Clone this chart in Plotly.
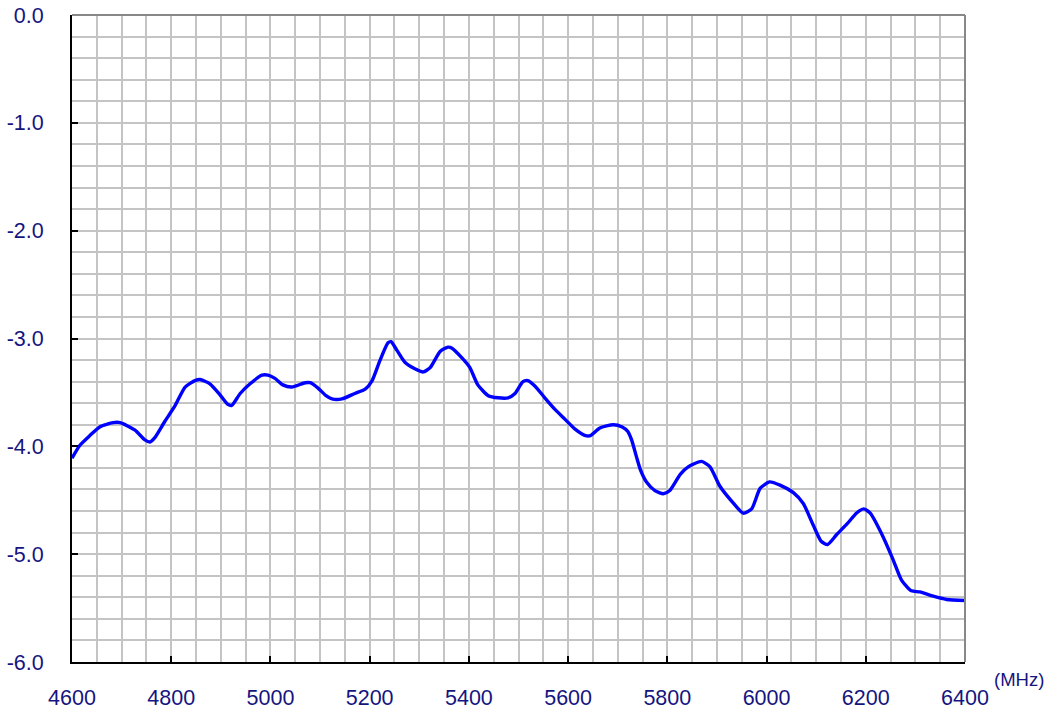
import plotly.graph_objects as go

# Frequency sweep (MHz) and measured level (dB)
freq_mhz = [4600, 4616, 4636, 4656, 4683, 4697, 4727, 4747, 4757, 4767, 4787, 4808,
            4828, 4848, 4858, 4878, 4898, 4914, 4922, 4939, 4959, 4983, 4995, 5009,
            5025, 5043, 5070, 5080, 5096, 5112, 5124, 5144, 5170, 5191, 5205, 5221,
            5237, 5243, 5255, 5271, 5291, 5308, 5322, 5342, 5358, 5366, 5386, 5402,
            5418, 5439, 5459, 5479, 5493, 5509, 5519, 5533, 5553, 5574, 5594, 5614,
            5635, 5645, 5664, 5691, 5709, 5720, 5728, 5738, 5746, 5758, 5775, 5792,
            5805, 5826, 5842, 5869, 5886, 5906, 5930, 5953, 5970, 5987, 6006, 6027,
            6054, 6074, 6094, 6110, 6123, 6141, 6164, 6181, 6196, 6209, 6235, 6255,
            6272, 6292, 6309, 6336, 6363, 6400]
level_db = [-4.11, -3.99, -3.90, -3.82, -3.78, -3.78, -3.85, -3.94, -3.96, -3.92, -3.77, -3.62,
            -3.45, -3.39, -3.38, -3.42, -3.52, -3.61, -3.62, -3.51, -3.42, -3.34, -3.34, -3.37,
            -3.43, -3.45, -3.41, -3.41, -3.46, -3.53, -3.56, -3.56, -3.51, -3.47, -3.39, -3.20,
            -3.04, -3.03, -3.11, -3.22, -3.28, -3.31, -3.27, -3.12, -3.08, -3.09, -3.18, -3.27,
            -3.43, -3.53, -3.55, -3.55, -3.51, -3.40, -3.39, -3.44, -3.55, -3.66, -3.75, -3.84,
            -3.90, -3.90, -3.83, -3.80, -3.82, -3.86, -3.94, -4.10, -4.22, -4.33, -4.41, -4.44,
            -4.41, -4.26, -4.19, -4.14, -4.19, -4.37, -4.51, -4.62, -4.58, -4.39, -4.33, -4.36,
            -4.43, -4.53, -4.73, -4.88, -4.91, -4.82, -4.71, -4.62, -4.58, -4.62, -4.84, -5.05,
            -5.24, -5.34, -5.35, -5.39, -5.42, -5.43]

x_ticks = [4600, 4800, 5000, 5200, 5400, 5600, 5800, 6000, 6200, 6400]
y_ticks = [0.0, -1.0, -2.0, -3.0, -4.0, -5.0, -6.0]
y_tick_text = [f"{v:.1f}" for v in y_ticks]

label_color = "#151580"
grid_color = "#c4c4c4"
font_family = "Liberation Sans, Arial, sans-serif"
tick_font = dict(size=21.5, color=label_color, family=font_family)

fig = go.Figure()
fig.add_trace(go.Scatter(
    x=freq_mhz, y=level_db, mode="lines",
    line=dict(color="#0000ff", width=3.4, shape="spline", smoothing=0.6),
    hoverinfo="x+y", showlegend=False,
))

fig.update_layout(
    width=1051, height=711,
    margin=dict(l=72, r=86, t=15, b=49),
    paper_bgcolor="white", plot_bgcolor="white",
    font=dict(family=font_family, size=21.5, color=label_color),
    xaxis=dict(
        range=[4600, 6400], tickvals=x_ticks, ticktext=[str(v) for v in x_ticks],
        showgrid=True, gridcolor=grid_color, gridwidth=1.5,
        minor=dict(dtick=50, tick0=4600, showgrid=True, gridcolor=grid_color, gridwidth=1.5),
        showline=True, linecolor="black", linewidth=2,
        ticks="inside", ticklen=6, tickwidth=2, tickcolor="black",
        ticklabelstandoff=15, zeroline=False, fixedrange=True, automargin=False,
        tickfont=tick_font,
    ),
    yaxis=dict(
        range=[-6, 0], tickvals=y_ticks, ticktext=y_tick_text,
        showgrid=True, gridcolor=grid_color, gridwidth=1.5,
        minor=dict(dtick=0.2, tick0=0, showgrid=True, gridcolor=grid_color, gridwidth=1.5),
        showline=True, linecolor="black", linewidth=2,
        ticks="inside", ticklen=6, tickwidth=2, tickcolor="black",
        ticklabelstandoff=22, zeroline=False, fixedrange=True, automargin=False,
        tickfont=tick_font,
    ),
    shapes=[
        dict(type="line", xref="paper", yref="paper", x0=0, x1=1, y0=1, y1=1,
             line=dict(color="#888888", width=2)),
        dict(type="line", xref="paper", yref="paper", x0=1, x1=1, y0=0, y1=1,
             line=dict(color="#888888", width=2)),
    ],
    annotations=[
        dict(text="(MHz)", xref="paper", yref="paper", x=1, y=0,
             xanchor="left", yanchor="top", xshift=27, yshift=-5,
             showarrow=False, font=dict(size=18.5, color=label_color, family=font_family)),
    ],
)

fig.write_html("out.html")
